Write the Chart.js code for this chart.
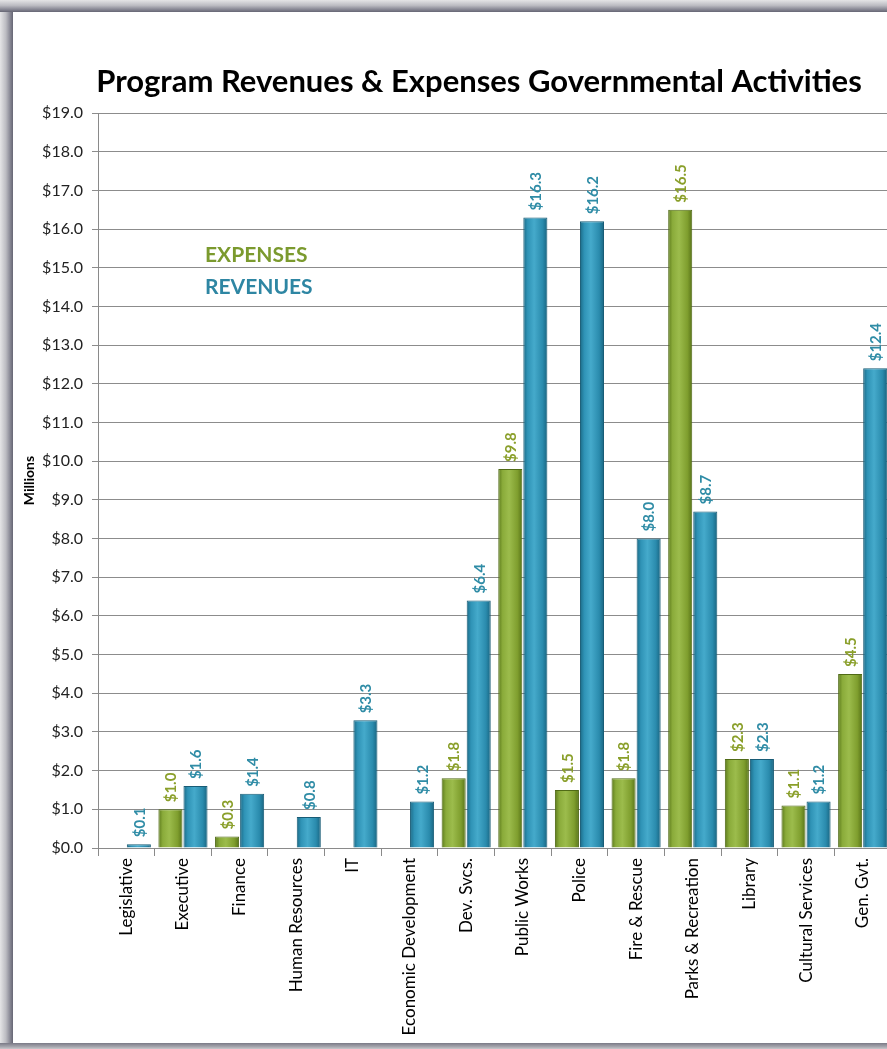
<!DOCTYPE html>
<html>
<head>
<meta charset="utf-8">
<script src="https://cdn.jsdelivr.net/npm/chart.js@4.4.1/dist/chart.umd.min.js"></script>
<style>
  html, body { margin: 0; padding: 0; background: #fff; overflow: hidden; width: 887px; height: 1049px; }
  #wrap { position: absolute; left: 0; top: 0; width: 887px; height: 1049px; overflow: hidden; }
  canvas { position: absolute; left: 0; top: 0; }
  .edge { position: absolute; z-index: 2; }
  #edgeLeft { left: 0; top: 0; width: 13px; height: 1049px;
    background: linear-gradient(to right, #e4e4e6 0%, #bcbcc2 45%, #8c8c98 75%, #666674 100%); }
  #edgeTop { left: 0; top: 0; width: 887px; height: 12px;
    background: linear-gradient(to bottom, #e4e4e6 0%, #bcbcc2 45%, #8c8c98 75%, #666674 100%); }
  #edgeBottom { left: 0; top: 1043px; width: 887px; height: 6px;
    background: linear-gradient(to bottom, #7a7a86 0%, #a4a4ac 60%, #c8c8cc 100%); }
</style>
</head>
<body>
<div id="wrap">
  <canvas id="chart" width="958" height="1049"></canvas>
  <div class="edge" id="edgeLeft"></div>
  <div class="edge" id="edgeTop"></div>
  <div class="edge" id="edgeBottom"></div>
</div>
<script>
// Program categories along the x axis
const categories = [
  'Legislative', 'Executive', 'Finance', 'Human Resources', 'IT',
  'Economic Development', 'Dev. Svcs.', 'Public Works', 'Police',
  'Fire & Rescue', 'Parks & Recreation', 'Library', 'Cultural Services', 'Gen. Gvt.'
];

// Amounts in millions of dollars (null = no amount reported)
const expenses = [null, 1.0, 0.3, null, null, null, 1.8, 9.8, 1.5, 1.8, 16.5, 2.3, 1.1, 4.5];
const revenues = [0.1, 1.6, 1.4, 0.8, 3.3, 1.2, 6.4, 16.3, 16.2, 8.0, 8.7, 2.3, 1.2, 12.4];

// Value axis range
const yMin = 0;
const yMax = 19;
const yStep = 1;

const chartTitle = 'Program Revenues & Expenses Governmental Activities';

const FONT = 'Lato, "Open Sans", "DejaVu Sans", sans-serif';
const CAT_PCT = 0.885;
const BAR_PCT = 0.96;

const palette = {
  expenses: { stops: ['#5c7a1c', '#8aab3a', '#9cbc4c', '#7f9e2e', '#587318'], label: '#8a9f2a', text: '#7b9a2e' },
  revenues: { stops: ['#1b6a86', '#2f93b6', '#45aacb', '#2a8bad', '#196480'], label: '#2f8ca6', text: '#2e86a3' }
};

// Horizontal shading across each bar, computed from the category scale
function barShade(key, side) {
  return function (ctx) {
    const chart = ctx.chart;
    const xs = chart.scales && chart.scales.x;
    const p = palette[key];
    if (!xs || !chart.chartArea || ctx.index === undefined) return p.stops[2];
    const center = xs.getPixelForValue(ctx.index);
    const catW = xs.width / categories.length;
    const slot = catW * CAT_PCT / 2;
    const barCenter = center + side * slot / 2;
    const half = slot * BAR_PCT / 2;
    const g = chart.ctx.createLinearGradient(barCenter - half, 0, barCenter + half, 0);
    g.addColorStop(0, p.stops[0]);
    g.addColorStop(0.18, p.stops[1]);
    g.addColorStop(0.45, p.stops[2]);
    g.addColorStop(0.8, p.stops[3]);
    g.addColorStop(1, p.stops[4]);
    return g;
  };
}

// Rotated value labels above every bar
const valueLabels = {
  id: 'valueLabels',
  afterDatasetsDraw(chart) {
    const ctx = chart.ctx;
    chart.data.datasets.forEach((ds, di) => {
      const meta = chart.getDatasetMeta(di);
      meta.data.forEach((bar, i) => {
        const v = ds.data[i];
        if (v === null || v === undefined) return;
        ctx.save();
        ctx.translate(bar.x, bar.y - 7);
        ctx.rotate(-Math.PI / 2);
        ctx.font = 'bold 15px ' + FONT;
        ctx.fillStyle = ds.labelColor;
        ctx.textAlign = 'left';
        ctx.textBaseline = 'middle';
        ctx.fillText('$' + v.toFixed(1), 0, 1);
        ctx.restore();
      });
    });
  }
};

// Heading and series key
const headingAndKey = {
  id: 'headingAndKey',
  afterDraw(chart) {
    const ctx = chart.ctx;
    ctx.save();
    ctx.font = 'bold 31px ' + FONT;
    ctx.fillStyle = '#000';
    ctx.textAlign = 'center';
    ctx.textBaseline = 'middle';
    ctx.fillText(chartTitle, 479, 82);

    ctx.font = 'bold 21px ' + FONT;
    ctx.textAlign = 'left';
    ctx.fillStyle = palette.expenses.text;
    ctx.fillText('EXPENSES', 205, 255);
    ctx.fillStyle = palette.revenues.text;
    ctx.fillText('REVENUES', 205, 287);
    ctx.restore();
  }
};

new Chart(document.getElementById('chart'), {
  type: 'bar',
  data: {
    labels: categories,
    datasets: [
      {
        label: 'EXPENSES',
        data: expenses,
        backgroundColor: barShade('expenses', -1),
        borderColor: '#506a16',
        borderWidth: 1,
        borderSkipped: 'bottom',
        labelColor: palette.expenses.label
      },
      {
        label: 'REVENUES',
        data: revenues,
        backgroundColor: barShade('revenues', 1),
        borderColor: '#185c76',
        borderWidth: 1,
        borderSkipped: 'bottom',
        labelColor: palette.revenues.label
      }
    ]
  },
  options: {
    responsive: false,
    animation: false,
    devicePixelRatio: 1,
    categoryPercentage: CAT_PCT,
    barPercentage: BAR_PCT,
    layout: { padding: { left: 0, right: 67, top: 113, bottom: 0 } },
    plugins: {
      legend: { display: false },
      tooltip: { enabled: false },
      title: { display: false }
    },
    scales: {
      x: {
        grid: { display: true, offset: true, drawOnChartArea: false, tickLength: 8, color: '#8a8a8a' },
        border: { display: true, color: '#8a8a8a' },
        ticks: {
          autoSkip: false, minRotation: 90, maxRotation: 90, padding: 2,
          color: '#000', font: { family: FONT, size: 17 }
        },
        afterFit(scale) { scale.height = 201; }
      },
      y: {
        min: yMin, max: yMax,
        ticks: {
          stepSize: yStep, padding: 9, color: '#222',
          font: { family: FONT, size: 16 },
          callback: (v) => '$' + Number(v).toFixed(1)
        },
        grid: { color: '#8c8c8c', lineWidth: 1, tickLength: 6 },
        border: { display: true, color: '#8a8a8a' },
        title: {
          display: true, text: 'Millions', color: '#000',
          font: { family: FONT, size: 14, weight: 'bold' },
          padding: { top: 21, bottom: 0 }
        },
        afterFit(scale) { scale.width = 98; }
      }
    }
  },
  plugins: [valueLabels, headingAndKey]
});
</script>
</body>
</html>
